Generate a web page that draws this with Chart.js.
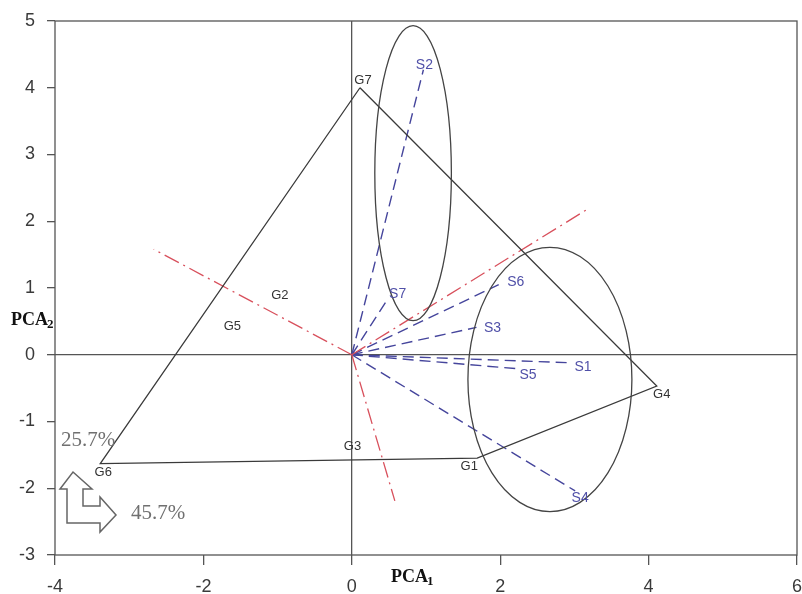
<!DOCTYPE html>
<html>
<head>
<meta charset="utf-8">
<script src="https://cdn.jsdelivr.net/npm/chart.js@4.4.1/dist/chart.umd.min.js"></script>
<style>
  html, body { margin: 0; padding: 0; background: #fff; }
  #wrap { width: 802px; height: 594px; }
</style>
</head>
<body>
<div id="wrap"><canvas id="biplot"></canvas></div>
<script>
// genotypes
const genoNames = ['G1', 'G2', 'G3', 'G4', 'G5', 'G6', 'G7'];
const genoX = [1.69, -0.97, 0.01, 4.11, -1.61, -3.39, 0.11];
const genoY = [-1.55, 0.89, -1.37, -0.47, 0.43, -1.63, 4.0];
// polygon vertices (convex hull)
const hullOrder = ['G7', 'G4', 'G1', 'G6', 'G7'];

// environment vectors
const envNames = ['S1', 'S2', 'S3', 'S4', 'S5', 'S6', 'S7'];
const envX = [2.94, 0.965, 1.68, 3.01, 2.24, 1.98, 0.47];
const envY = [-0.12, 4.27, 0.41, -2.04, -0.21, 1.05, 0.81];

// perpendicular lines (from origin)
const perpX = [-2.67, 0.58, 3.19];
const perpY = [1.58, -2.19, 2.19];

// mega-environment ellipses
const ellCx = [0.826, 2.67];
const ellCy = [2.72, -0.37];
const ellRx = [0.516, 1.105];
const ellRy = [2.21, 1.98];

const xTicks = [-4, -2, 0, 2, 4, 6];
const yTicks = [-3, -2, -1, 0, 1, 2, 3, 4, 5];

const pc1Pct = '45.7%';
const pc2Pct = '25.7%';

// label offsets in px (style only)
const labelShift = {
  G1: [-8, 8], G2: [0, 0], G3: [0, 0], G4: [5, 8], G5: [0, 0], G6: [3, 9], G7: [3, -7],
  S1: [13, 4], S2: [1, -5], S3: [16, 1], S4: [5, 7], S5: [10, 6], S6: [17, -3], S7: [11, -7]
};

const pt = (name) => {
  const i = genoNames.indexOf(name);
  return { x: genoX[i], y: genoY[i] };
};

const datasets = [];
datasets.push({
  label: 'hull',
  data: hullOrder.map(pt),
  showLine: true,
  borderColor: '#3a3a3a',
  borderWidth: 1.3,
  pointRadius: 0,
  tension: 0
});
perpX.forEach((x, i) => {
  datasets.push({
    label: 'perp' + i,
    data: [{ x: 0, y: 0 }, { x: x, y: perpY[i] }],
    showLine: true,
    borderColor: '#d8505c',
    borderWidth: 1.3,
    borderDash: [16, 5, 2, 5],
    pointRadius: 0
  });
});
envNames.forEach((n, i) => {
  datasets.push({
    label: n,
    data: [{ x: 0, y: 0 }, { x: envX[i], y: envY[i] }],
    showLine: true,
    borderColor: '#45459c',
    borderWidth: 1.4,
    borderDash: [11, 6],
    pointRadius: 0
  });
});

const decorations = {
  id: 'decorations',
  afterDatasetsDraw(chart) {
    const { ctx, chartArea: { left, top, right, bottom }, scales: { x, y } } = chart;
    ctx.save();

    // ellipses
    ctx.strokeStyle = '#444';
    ctx.lineWidth = 1.3;
    ellCx.forEach((cx, i) => {
      const px = x.getPixelForValue(cx);
      const py = y.getPixelForValue(ellCy[i]);
      const rx = Math.abs(x.getPixelForValue(cx + ellRx[i]) - px);
      const ry = Math.abs(y.getPixelForValue(ellCy[i] + ellRy[i]) - py);
      ctx.beginPath();
      ctx.ellipse(px, py, rx, ry, 0, 0, Math.PI * 2);
      ctx.stroke();
    });

    // genotype labels
    ctx.font = '13px "Liberation Sans", Arial, sans-serif';
    ctx.textAlign = 'center';
    ctx.textBaseline = 'middle';
    ctx.fillStyle = '#333';
    genoNames.forEach((n, i) => {
      const s = labelShift[n];
      ctx.fillText(n, x.getPixelForValue(genoX[i]) + s[0], y.getPixelForValue(genoY[i]) + s[1]);
    });

    // environment labels
    ctx.font = '14px "Liberation Sans", Arial, sans-serif';
    ctx.fillStyle = '#5050a8';
    envNames.forEach((n, i) => {
      const s = labelShift[n];
      ctx.fillText(n, x.getPixelForValue(envX[i]) + s[0], y.getPixelForValue(envY[i]) + s[1]);
    });

    // plot frame
    ctx.strokeStyle = '#555';
    ctx.lineWidth = 1.3;
    ctx.strokeRect(left, top, right - left, bottom - top);

    // variance arrows
    const ax = left, ay = bottom;
    const arrow = [[18, -83], [37, -66], [28, -66], [28, -49], [45, -49], [45, -58], [61, -40],
      [45, -23], [45, -32], [12, -32], [12, -66], [5, -66]];
    ctx.strokeStyle = '#666';
    ctx.lineWidth = 1.5;
    ctx.beginPath();
    arrow.forEach((p, i) => i ? ctx.lineTo(ax + p[0], ay + p[1]) : ctx.moveTo(ax + p[0], ay + p[1]));
    ctx.closePath();
    ctx.stroke();

    ctx.font = '21px "Liberation Serif", "Times New Roman", serif';
    ctx.fillStyle = '#707070';
    ctx.textAlign = 'left';
    ctx.fillText(pc2Pct, ax + 6, ay - 115);
    ctx.fillText(pc1Pct, ax + 76, ay - 42);

    // axis titles
    const title = (tx, ty, sub) => {
      ctx.fillStyle = '#111';
      ctx.font = 'bold 18px "Liberation Serif", "Times New Roman", serif';
      ctx.textAlign = 'left';
      ctx.fillText('PCA', tx, ty);
      const w = ctx.measureText('PCA').width;
      ctx.font = 'bold 13px "Liberation Serif", "Times New Roman", serif';
      ctx.fillText(sub, tx + w - 1, ty + 5);
    };
    title(11, 320, '2');
    title(391, 577, '1');

    ctx.restore();
  }
};

new Chart(document.getElementById('biplot'), {
  type: 'scatter',
  data: { datasets },
  plugins: [decorations],
  options: {
    responsive: true,
    maintainAspectRatio: false,
    animation: false,
    layout: { padding: { top: 21, right: 5, left: 0, bottom: 0 } },
    plugins: { legend: { display: false }, tooltip: { enabled: false } },
    scales: {
      x: {
        type: 'linear',
        min: -4,
        max: 6,
        afterBuildTicks: (s) => { s.ticks = xTicks.map(v => ({ value: v })); },
        afterFit: (s) => { s.height = 39; s.paddingRight = 0; s.paddingLeft = 0; },
        border: { display: false },
        grid: {
          color: (c) => (c.tick && c.tick.value === 0 ? '#555' : 'transparent'),
          tickColor: '#555',
          lineWidth: 1.3,
          tickLength: 10
        },
        ticks: {
          color: '#3a3a3a',
          padding: 11,
          font: { family: '"Liberation Sans", Arial, sans-serif', size: 18 }
        }
      },
      y: {
        type: 'linear',
        min: -3,
        max: 5,
        afterBuildTicks: (s) => { s.ticks = yTicks.map(v => ({ value: v })); },
        afterFit: (s) => { s.width = 55; s.paddingTop = 0; s.paddingBottom = 0; },
        border: { display: false },
        grid: {
          color: (c) => (c.tick && c.tick.value === 0 ? '#555' : 'transparent'),
          tickColor: '#555',
          lineWidth: 1.3,
          tickLength: 8
        },
        ticks: {
          color: '#3a3a3a',
          padding: 12,
          font: { family: '"Liberation Sans", Arial, sans-serif', size: 18 }
        }
      }
    }
  }
});
</script>
</body>
</html>
